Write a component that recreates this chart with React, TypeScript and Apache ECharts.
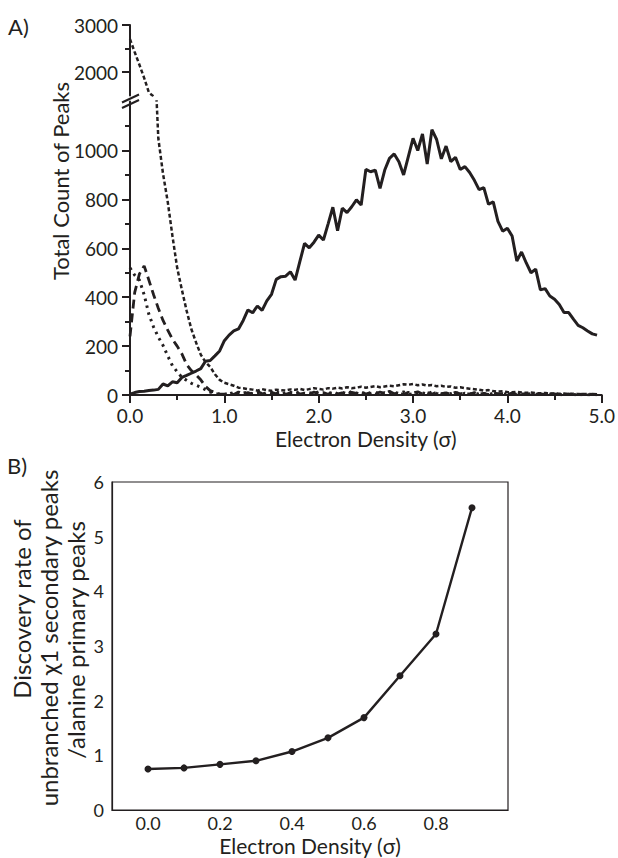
import React, { useEffect, useRef } from "react";
import * as echarts from "echarts";

// ---------- Panel A data ----------
const sigmaA = [
  0.0, 0.05, 0.1, 0.15, 0.2, 0.25, 0.3, 0.35, 0.4, 0.45,
  0.5, 0.55, 0.6, 0.65, 0.7, 0.75, 0.8, 0.85, 0.9, 0.95,
  1.0, 1.05, 1.1, 1.15, 1.2, 1.25, 1.3, 1.35, 1.4, 1.45,
  1.5, 1.55, 1.6, 1.65, 1.7, 1.75, 1.8, 1.85, 1.9, 1.95,
  2.0, 2.05, 2.1, 2.15, 2.2, 2.25, 2.3, 2.35, 2.4, 2.45,
  2.5, 2.55, 2.6, 2.65, 2.7, 2.75, 2.8, 2.85, 2.9, 2.95,
  3.0, 3.05, 3.1, 3.15, 3.2, 3.25, 3.3, 3.35, 3.4, 3.45,
  3.5, 3.55, 3.6, 3.65, 3.7, 3.75, 3.8, 3.85, 3.9, 3.95,
  4.0, 4.05, 4.1, 4.15, 4.2, 4.25, 4.3, 4.35, 4.4, 4.45,
  4.5, 4.55, 4.6, 4.65, 4.7, 4.75, 4.8, 4.85, 4.9, 4.95,
];

const solidCounts = [
  3, 10, 14, 15, 18, 20, 23, 45, 37, 54,
  50, 72, 80, 89, 98, 108, 138, 141, 160, 180,
  222, 245, 262, 270, 305, 348, 336, 364, 346, 385,
  412, 473, 484, 486, 504, 470, 545, 620, 602, 625,
  654, 634, 700, 768, 672, 764, 746, 770, 798, 777,
  923, 913, 920, 845, 920, 968, 986, 954, 900, 975,
  1050, 1000, 1068, 945, 1085, 1045, 966, 1018, 955, 972,
  922, 934, 910, 878, 840, 848, 780, 790, 710, 670,
  682, 650, 548, 585, 540, 500, 515, 430, 435, 405,
  392, 370, 337, 337, 310, 285, 275, 262, 250, 245,
];

const shortDashCounts = [
  2700, 2420, 2150, 1870, 1560, 1480, 1050, 905, 790, 650,
  520, 430, 345, 270, 215, 165, 135, 115, 85, 62,
  50, 44, 38, 30, 28, 24, 22, 18, 24, 20,
  17, 22, 20, 18, 23, 21, 25, 20, 24, 28,
  25, 22, 28, 26, 30, 27, 32, 28, 30, 34,
  30, 33, 36, 32, 35, 38, 36, 40, 44, 42,
  45, 40, 43, 38, 41, 36, 38, 33, 35, 30,
  32, 28, 26, 24, 22, 18, 20, 16, 14, 15,
  12, 11, 13, 10, 9, 10, 8, 7, 8, 6,
  6, 5, 6, 4, 5, 4, 3, 4, 3, 3,
];

const longDashCounts = [
  240, 420, 495, 528, 470, 410, 355, 305, 265, 228,
  200, 168, 125, 100, 82, 62, 35, 18, 10, 5,
  3, 8, 2, 12, 4, 10, 3, 14, 6, 2,
  11, 5, 13, 3, 9, 15, 4, 8, 2, 12,
  6, 10, 3, 14, 5, 9, 2, 11, 7, 13,
  4, 10, 3, 12, 6, 15, 5, 9, 2, 11,
  8, 13, 4, 10, 3, 12, 6, 9, 2, 11,
  5, 8, 3, 10, 4, 7, 2, 9, 5, 6,
  3, 8, 2, 5, 4, 6, 3, 5, 2, 4,
  3, 5, 2, 3, 4, 2, 3, 2, 3, 2,
];

const dotCounts = [
  520, 490, 470, 410, 330, 278, 237, 203, 160, 120,
  95, 72, 60, 48, 40, 32, 22, 12, 6, 3,
  2, 5, 10, 3, 8, 12, 4, 9, 2, 11,
  6, 14, 3, 8, 10, 5, 12, 2, 9, 6,
  13, 4, 10, 7, 3, 11, 5, 14, 8, 2,
  10, 6, 12, 4, 9, 3, 11, 7, 13, 5,
  2, 10, 8, 4, 12, 6, 3, 9, 5, 11,
  2, 7, 4, 8, 3, 6, 2, 7, 4, 5,
  2, 6, 3, 4, 2, 5, 3, 2, 4, 2,
  3, 2, 1, 3, 2, 1, 2, 1, 2, 1,
];

const xTicksA = [0, 1, 2, 3, 4, 5];
const yLowerLabels = [0, 200, 400, 600, 800, 1000];
const yLowerMinor = [100, 300, 500, 700, 900, 1100];
const yUpperLabels = [2000, 3000];
const yUpperMinor = [2500];

// ---------- Panel B data ----------
const sigmaB = [0.0, 0.1, 0.2, 0.3, 0.4, 0.5, 0.6, 0.7, 0.8, 0.9];
const discoveryRate = [0.75, 0.77, 0.835, 0.9, 1.07, 1.32, 1.69, 2.455, 3.22, 5.53];
const xLabelsB = [0, 0.2, 0.4, 0.6, 0.8];
const yTitleLinesB = ["Discovery rate of", "unbranched χ1 secondary peaks", "/alanine primary peaks"];

const C = "#231f20";
const FONT = "Lato, 'Open Sans', sans-serif";

const pairs = (xs: number[], ys: number[]) =>
  ys.map((y, i) => [xs[i], y]).filter((p) => p[0] !== undefined);

const vText = (text: string, x: number, y: number, fontSize: number) => ({
  type: "text",
  x,
  y,
  rotation: Math.PI / 2,
  style: {
    text,
    fontSize,
    fontFamily: FONT,
    fill: C,
    textAlign: "center",
    textVerticalAlign: "middle",
    align: "center",
    verticalAlign: "middle",
  },
});

export default function App() {
  const ref = useRef<HTMLDivElement>(null);

  useEffect(() => {
    if (!ref.current) return;
    const chart = echarts.init(ref.current, null, { renderer: "svg" });

    const lineAxis = { lineStyle: { color: C, width: 2 } };
    const plain = (v: number) => String(v);

    const option: any = {
      animation: false,
      backgroundColor: "#ffffff",
      grid: [
        { left: 130, top: 101.6, width: 474, height: 293.4 },
        { left: 130, top: 25, width: 474, height: 70.5 },
        { left: 112, top: 482, width: 396, height: 328, show: true, borderColor: C, borderWidth: 1.2 },
      ],
      xAxis: [
        {
          type: "value",
          gridIndex: 0,
          min: 0,
          max: 5,
          interval: 1,
          axisLine: lineAxis,
          axisTick: { show: true, length: 8, lineStyle: { color: C, width: 2 } },
          minorTick: { show: true, splitNumber: 2, length: 5, lineStyle: { color: C, width: 2 } },
          axisLabel: {
            customValues: xTicksA,
            formatter: (v: number) => v.toFixed(1),
            fontSize: 19,
            color: C,
            margin: 11,
            fontFamily: FONT,
          },
          splitLine: { show: false },
          name: "Electron Density (σ)",
          nameLocation: "middle",
          nameGap: 33,
          nameTextStyle: { fontSize: 21, color: C, fontFamily: FONT },
        },
        { type: "value", gridIndex: 1, min: 0, max: 5, show: false },
        {
          type: "value",
          gridIndex: 2,
          min: -0.1,
          max: 1.0,
          interval: 0.1,
          axisLine: { onZero: false, lineStyle: { color: C, width: 1.2 } },
          axisTick: { show: false },
          axisLabel: {
            customValues: xLabelsB,
            formatter: (v: number) => v.toFixed(1),
            fontSize: 18,
            color: C,
            margin: 4,
            fontFamily: FONT,
          },
          splitLine: { show: false },
          name: "Electron Density (σ)",
          nameLocation: "middle",
          nameGap: 25,
          nameTextStyle: { fontSize: 21, color: C, fontFamily: FONT },
        },
      ],
      yAxis: [
        {
          type: "value",
          gridIndex: 0,
          position: "left",
          min: 0,
          max: 1200,
          interval: 200,
          axisLine: { show: true, ...lineAxis },
          axisTick: { show: true, customValues: yLowerLabels, length: 8, lineStyle: { color: C, width: 2 } },
          axisLabel: { customValues: yLowerLabels, formatter: plain, fontSize: 19, color: C, margin: 12, fontFamily: FONT },
          splitLine: { show: false },
        },
        {
          type: "value",
          gridIndex: 0,
          position: "left",
          offset: 0,
          min: 0,
          max: 1200,
          interval: 100,
          axisLine: { show: false },
          axisTick: { show: true, customValues: yLowerMinor, length: 5, lineStyle: { color: C, width: 2 } },
          axisLabel: { show: false },
          splitLine: { show: false },
        },
        {
          type: "value",
          gridIndex: 1,
          position: "left",
          min: 1500,
          max: 3000,
          interval: 500,
          axisLine: { show: true, ...lineAxis },
          axisTick: { show: true, customValues: yUpperLabels, length: 8, lineStyle: { color: C, width: 2 } },
          axisLabel: { customValues: yUpperLabels, formatter: plain, fontSize: 19, color: C, margin: 12, fontFamily: FONT },
          splitLine: { show: false },
        },
        {
          type: "value",
          gridIndex: 1,
          position: "left",
          offset: 0,
          min: 1500,
          max: 3000,
          interval: 500,
          axisLine: { show: false },
          axisTick: { show: true, customValues: yUpperMinor, length: 5, lineStyle: { color: C, width: 2 } },
          axisLabel: { show: false },
          splitLine: { show: false },
        },
        {
          type: "value",
          gridIndex: 2,
          position: "left",
          min: 0,
          max: 6,
          interval: 1,
          axisLine: { onZero: false, lineStyle: { color: C, width: 1.2 } },
          axisTick: { show: false },
          axisLabel: { fontSize: 18, color: C, margin: 8, fontFamily: FONT },
          splitLine: { show: false },
        },
      ],
      series: [
        {
          type: "line",
          xAxisIndex: 0,
          yAxisIndex: 0,
          data: pairs(sigmaA, dotCounts),
          showSymbol: false,
          lineStyle: { color: C, width: 3, type: [2.5, 4.5] },
          z: 2,
        },
        {
          type: "line",
          xAxisIndex: 0,
          yAxisIndex: 0,
          data: pairs(sigmaA, longDashCounts),
          showSymbol: false,
          lineStyle: { color: C, width: 2.8, type: [9, 5] },
          z: 2,
        },
        {
          type: "line",
          xAxisIndex: 0,
          yAxisIndex: 0,
          data: pairs(sigmaA, shortDashCounts),
          showSymbol: false,
          lineStyle: { color: C, width: 2.5, type: [4, 2.5] },
          z: 2,
        },
        {
          type: "line",
          xAxisIndex: 1,
          yAxisIndex: 2,
          data: pairs(sigmaA, shortDashCounts),
          showSymbol: false,
          lineStyle: { color: C, width: 2.5, type: [4, 2.5] },
          z: 2,
        },
        {
          type: "line",
          xAxisIndex: 0,
          yAxisIndex: 0,
          data: pairs(sigmaA, solidCounts),
          showSymbol: false,
          lineStyle: { color: C, width: 3 },
          z: 3,
        },
        {
          type: "line",
          xAxisIndex: 2,
          yAxisIndex: 4,
          data: pairs(sigmaB, discoveryRate),
          symbol: "circle",
          symbolSize: 7,
          itemStyle: { color: C },
          lineStyle: { color: C, width: 2.4 },
        },
      ],
      graphic: [
        // axis break marks
        { type: "line", shape: { x1: 122, y1: 102.5, x2: 139, y2: 94.5 }, style: { stroke: C, lineWidth: 2 }, z: 10 },
        { type: "line", shape: { x1: 122, y1: 108, x2: 139, y2: 100 }, style: { stroke: C, lineWidth: 2 }, z: 10 },
        vText("Total Count of Peaks", 60, 181, 22),
        vText(yTitleLinesB[0], 21, 609, 24),
        vText(yTitleLinesB[1], 48, 638, 24),
        vText(yTitleLinesB[2], 75, 640, 24),
        {
          type: "text",
          x: 8,
          y: 26,
          style: { text: "A)", fontSize: 22, fontFamily: FONT, fill: C, verticalAlign: "middle", textVerticalAlign: "middle" },
        },
        {
          type: "text",
          x: 7,
          y: 465,
          style: { text: "B)", fontSize: 22, fontFamily: FONT, fill: C, verticalAlign: "middle", textVerticalAlign: "middle" },
        },
      ],
    };

    chart.setOption(option);
    return () => chart.dispose();
  }, []);

  return <div ref={ref} style={{ width: 618, height: 858, position: "absolute", left: 0, top: 0 }} />;
}
